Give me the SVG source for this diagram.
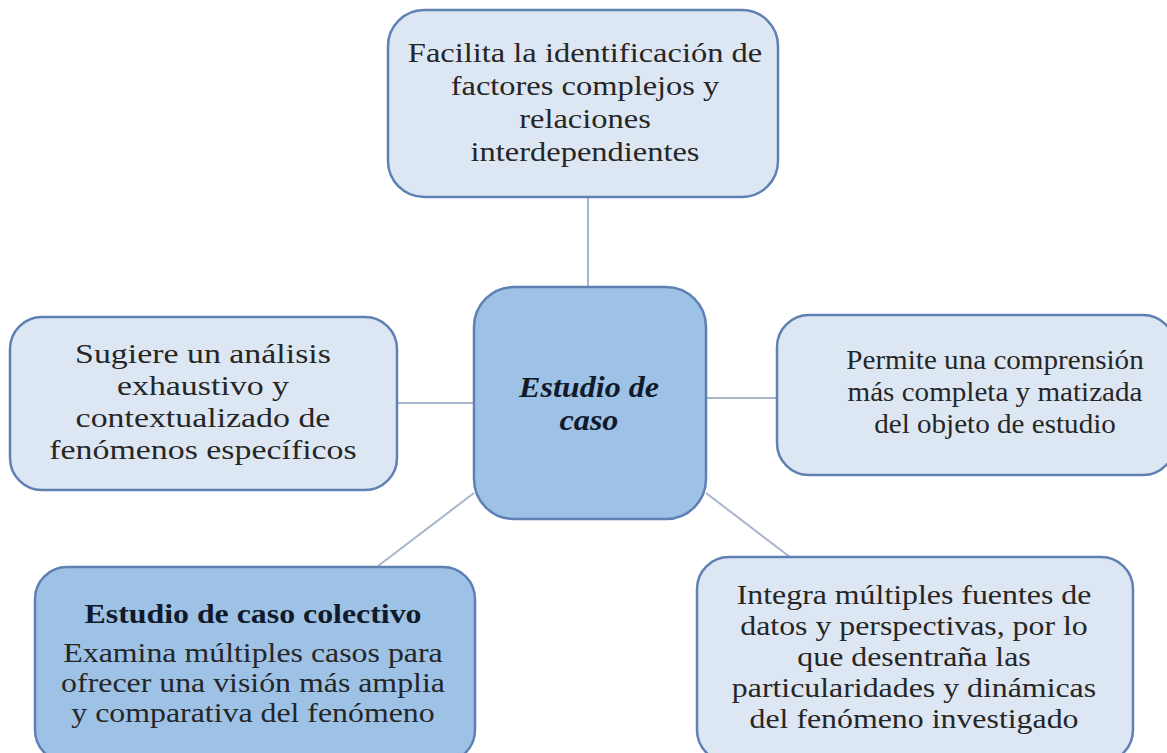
<svg xmlns="http://www.w3.org/2000/svg" width="1167" height="753" viewBox="0 0 1167 753">
<style>
.box{fill:#dde7f3;stroke:#5f80b3;stroke-width:2.5}
.dark{fill:#9dc2e6;stroke:#5f80b3;stroke-width:2.5}
.t{font-family:"Liberation Serif","Times New Roman",serif;font-size:28px;fill:#262626;text-anchor:middle}
.s{font-size:27px}
.b{font-weight:bold;fill:#111a2a}
.c{stroke:#a7b6cb;stroke-width:2;fill:none}
</style>
<rect width="1167" height="753" fill="#ffffff"/>
<g id="connectors">
<line class="c" x1="588" y1="197" x2="588" y2="287"/>
<line class="c" x1="397" y1="403" x2="474" y2="403"/>
<line class="c" x1="706" y1="398" x2="777" y2="398"/>
<line class="c" x1="474" y1="493" x2="378" y2="566"/>
<line class="c" x1="706" y1="493" x2="790" y2="557"/>
</g>
<g id="top">
<rect class="box" x="388" y="10" width="390" height="187" rx="36"/>
<g transform="translate(585,0) scale(1.16,1)">
<text class="t" x="0" y="62">Facilita la identificación de</text>
<text class="t" x="0" y="95">factores complejos y</text>
<text class="t" x="0" y="128">relaciones</text>
<text class="t" x="0" y="161">interdependientes</text>
</g>
</g>
<g id="center">
<rect class="dark" x="474" y="287" width="232" height="232" rx="40"/>
<g transform="translate(589,0) scale(1.07,1)">
<text class="t b" x="0" y="397" style="font-style:italic;font-size:30px">Estudio de</text>
<text class="t b" x="0" y="430" style="font-style:italic;font-size:30px">caso</text>
</g>
</g>
<g id="left">
<rect class="box" x="10" y="317" width="387" height="173" rx="32"/>
<g transform="translate(203,0) scale(1.21,1)">
<text class="t" x="0" y="363">Sugiere un análisis</text>
<text class="t" x="0" y="395">exhaustivo y</text>
<text class="t" x="0" y="427">contextualizado de</text>
<text class="t" x="0" y="459">fenómenos específicos</text>
</g>
</g>
<g id="right">
<rect class="box" x="777" y="315" width="398" height="160" rx="32"/>
<g transform="translate(995,0) scale(1.04,1)">
<text class="t" x="0" y="369">Permite una comprensión</text>
<text class="t" x="0" y="401">más completa y matizada</text>
<text class="t" x="0" y="433">del objeto de estudio</text>
</g>
</g>
<g id="bottom-left">
<rect class="dark" x="35" y="567" width="440" height="195" rx="32"/>
<g transform="translate(253,0) scale(1.18,1)">
<text class="t s b" x="0" y="623">Estudio de caso colectivo</text>
<text class="t s" x="0" y="662">Examina múltiples casos para</text>
<text class="t s" x="0" y="692">ofrecer una visión más amplia</text>
<text class="t s" x="0" y="722">y comparativa del fenómeno</text>
</g>
</g>
<g id="bottom-right">
<rect class="box" x="697" y="557" width="436" height="205" rx="32"/>
<g transform="translate(914,0) scale(1.18,1)">
<text class="t s" x="0" y="604">Integra múltiples fuentes de</text>
<text class="t s" x="0" y="635">datos y perspectivas, por lo</text>
<text class="t s" x="0" y="666">que desentraña las</text>
<text class="t s" x="0" y="697">particularidades y dinámicas</text>
<text class="t s" x="0" y="728">del fenómeno investigado</text>
</g>
</g>
</svg>
